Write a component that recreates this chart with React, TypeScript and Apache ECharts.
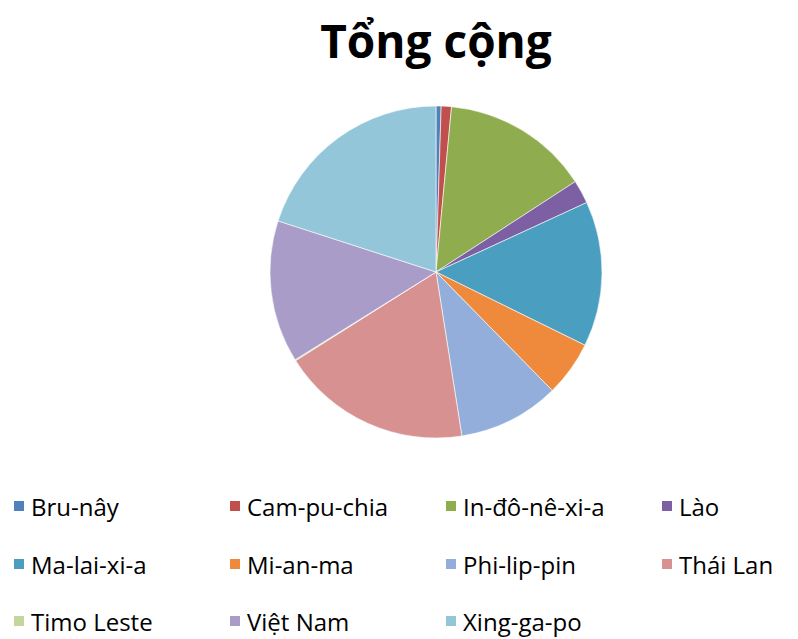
import React, { useEffect, useRef } from "react";
import * as echarts from "echarts";

const titleText = "Tổng cộng";
const categories = [
  "Bru-nây",
  "Cam-pu-chia",
  "In-đô-nê-xi-a",
  "Lào",
  "Ma-lai-xi-a",
  "Mi-an-ma",
  "Phi-lip-pin",
  "Thái Lan",
  "Timo Leste",
  "Việt Nam",
  "Xing-ga-po",
];
const values = [0.5, 1.0, 14.4, 2.3, 14.2, 5.4, 9.9, 18.6, 0.1, 13.9, 20.1];
const colors = [
  "#4F81BD",
  "#C0504D",
  "#8FAD4F",
  "#7D5FA3",
  "#4A9EBF",
  "#EF8A3C",
  "#93AEDA",
  "#D69190",
  "#C3D69B",
  "#A99CC8",
  "#93C6D9",
];
const legendRows = [
  ["Bru-nây", "Cam-pu-chia", "In-đô-nê-xi-a", "Lào"],
  ["Ma-lai-xi-a", "Mi-an-ma", "Phi-lip-pin", "Thái Lan"],
  ["Timo Leste", "Việt Nam", "Xing-ga-po"],
];

export default function App() {
  const ref = useRef<HTMLDivElement>(null);
  useEffect(() => {
    if (!ref.current) return;
    const chart = echarts.init(ref.current, undefined, { renderer: "svg" });
    const rowCenters = [506, 564, 621];
    chart.setOption({
      animation: false,
      backgroundColor: "#ffffff",
      color: colors,
      title: {
        text: titleText,
        left: 431,
        textAlign: "center",
        top: 12,
        textStyle: {
          fontFamily: "Open Sans",
          fontWeight: "bold",
          fontSize: 46,
          color: "#000000",
        },
      },
      legend: legendRows.map((row, i) => ({
        data: row,
        orient: "horizontal",
        left: 7,
        width: 1200,
        top: rowCenters[i] - 20,
        icon: "rect",
        itemWidth: 12,
        itemHeight: 12,
        itemGap: 7,
        selectedMode: false,
        textStyle: {
          fontFamily: "Open Sans",
          fontSize: 24,
          color: "#000000",
          width: 190,
          lineHeight: 30,
          padding: [0, 0, 0, 1],
        },
      })),
      series: [
        {
          type: "pie",
          center: [436, 272],
          radius: 166,
          startAngle: 90,
          clockwise: true,
          label: { show: false },
          labelLine: { show: false },
          itemStyle: { borderColor: "#ffffff", borderWidth: 0.6 },
          emphasis: { disabled: true },
          data: categories.map((name, i) => ({ name, value: values[i] })),
        },
      ],
    });
    return () => chart.dispose();
  }, []);
  return (
    <div
      ref={ref}
      style={{ position: "absolute", left: 0, top: 0, width: 798, height: 639 }}
    />
  );
}
